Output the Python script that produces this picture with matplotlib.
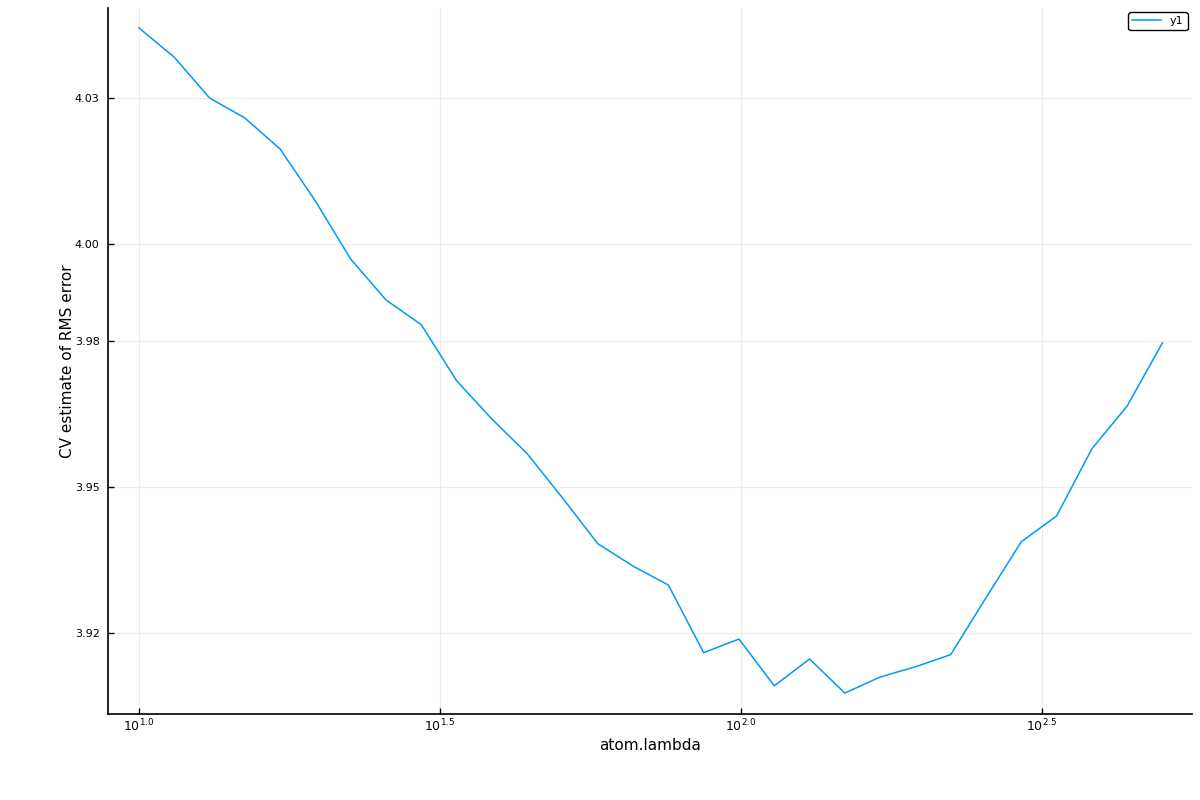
import matplotlib.pyplot as plt
from matplotlib.ticker import FixedLocator, FuncFormatter

# lambda values (log-spaced grid)
lambdas = [10.0, 11.44, 13.10, 14.99, 17.16, 19.64, 22.47, 25.72, 29.44, 33.69,
           38.57, 44.14, 50.52, 57.82, 66.17, 75.74, 86.68, 99.21, 113.55, 129.96,
           148.74, 170.24, 194.84, 222.99, 255.22, 292.10, 334.31, 382.62, 437.91, 501.19]

# CV estimate of RMS error
cv_rms = [4.0444, 4.0384, 4.0300, 4.0259, 4.0195, 4.0088, 3.9969, 3.9885, 3.9834, 3.9719,
          3.9640, 3.9569, 3.9478, 3.9384, 3.9338, 3.9299, 3.9160, 3.9188, 3.9092, 3.9147,
          3.9077, 3.9110, 3.9131, 3.9156, 3.9273, 3.9388, 3.9441, 3.9579, 3.9667, 3.9797]

y_ticks = [3.92, 3.95, 3.98, 4.00, 4.03]
x_tick_exps = [1.0, 1.5, 2.0, 2.5]


def main():
    fig = plt.figure(figsize=(12, 8), dpi=100)
    ax = fig.add_axes([0.09, 0.1075, 0.9033, 0.8825])

    ax.plot(lambdas, cv_rms, color="#009AFA", linewidth=1.1, label="y1")
    ax.set_xscale("log")
    ax.set_xlim(10 ** 0.9485, 10 ** 2.749)
    ax.set_ylim(3.9034, 4.0485)

    ax.xaxis.set_major_locator(FixedLocator([10 ** e for e in x_tick_exps]))
    ax.xaxis.set_minor_locator(FixedLocator([]))
    ax.xaxis.set_major_formatter(
        FuncFormatter(lambda v, p: r"$10^{%.1f}$" % x_tick_exps[p]))
    ax.set_yticks(y_ticks)
    ax.set_yticklabels(["%.2f" % v for v in y_ticks])

    ax.tick_params(direction="in", length=4, width=1, labelsize=8)
    ax.tick_params(axis="x", pad=3, labelsize=9)
    ax.tick_params(axis="y", pad=6)
    ax.grid(True, color="#ececec", linewidth=0.8)
    ax.set_axisbelow(True)
    for side in ["top", "right"]:
        ax.spines[side].set_visible(False)
    for side in ["left", "bottom"]:
        ax.spines[side].set_linewidth(1.2)

    ax.set_xlabel("atom.lambda", fontsize=11, labelpad=2)
    ax.set_ylabel("CV estimate of RMS error", fontsize=11, labelpad=0)

    leg = ax.legend(loc="upper right", fontsize=8, fancybox=True,
                    framealpha=1, edgecolor="black", handlelength=2.6,
                    borderaxespad=0.4, borderpad=0.35)
    leg.get_frame().set_linewidth(1)

    fig.savefig("out.png", dpi=100)


if __name__ == "__main__":
    main()
